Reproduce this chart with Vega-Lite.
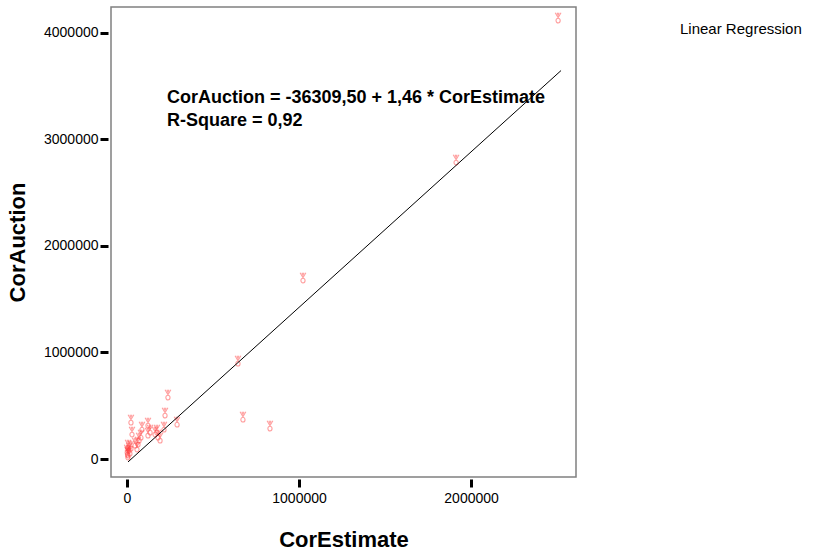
{
  "$schema": "https://vega.github.io/schema/vega-lite/v6.json",
  "autosize": "none",
  "width": 465,
  "height": 470,
  "padding": {"left": 111, "top": 7, "right": 252, "bottom": 79},
  "background": "white",
  "config": {
    "font": "Liberation Sans",
    "view": {"stroke": "#808080", "strokeWidth": 1.5},
    "axis": {"grid": false, "domain": false, "labelColor": "black", "tickColor": "black", "titleColor": "black"}
  },
  "datasets": {
    "points": [
      {"CorEstimate": 2506000, "CorAuction": 4141000},
      {"CorEstimate": 1913000, "CorAuction": 2808000},
      {"CorEstimate": 1023000, "CorAuction": 1700000},
      {"CorEstimate": 645000, "CorAuction": 920000},
      {"CorEstimate": 674000, "CorAuction": 394000},
      {"CorEstimate": 831000, "CorAuction": 310000},
      {"CorEstimate": 238000, "CorAuction": 601000},
      {"CorEstimate": 221000, "CorAuction": 432000},
      {"CorEstimate": 291000, "CorAuction": 347000},
      {"CorEstimate": 23000, "CorAuction": 366000},
      {"CorEstimate": 29000, "CorAuction": 254000},
      {"CorEstimate": 87000, "CorAuction": 300000},
      {"CorEstimate": 122000, "CorAuction": 338000},
      {"CorEstimate": 122000, "CorAuction": 244000},
      {"CorEstimate": 81000, "CorAuction": 225000},
      {"CorEstimate": 64000, "CorAuction": 160000},
      {"CorEstimate": 58000, "CorAuction": 113000},
      {"CorEstimate": 174000, "CorAuction": 272000},
      {"CorEstimate": 180000, "CorAuction": 225000},
      {"CorEstimate": 192000, "CorAuction": 197000},
      {"CorEstimate": 215000, "CorAuction": 300000},
      {"CorEstimate": 163000, "CorAuction": 254000},
      {"CorEstimate": 6000, "CorAuction": 131000},
      {"CorEstimate": 1000, "CorAuction": 85000},
      {"CorEstimate": 3000, "CorAuction": 66000},
      {"CorEstimate": 12000, "CorAuction": 103000},
      {"CorEstimate": 6000, "CorAuction": 56000},
      {"CorEstimate": 47000, "CorAuction": 150000},
      {"CorEstimate": 70000, "CorAuction": 197000},
      {"CorEstimate": 134000, "CorAuction": 272000},
      {"CorEstimate": 5000, "CorAuction": 38000},
      {"CorEstimate": 17000, "CorAuction": 75000},
      {"CorEstimate": 23000, "CorAuction": 122000}
    ],
    "fit": [
      {"CorEstimate": 6000, "CorAuction": -27550, "series": "Linear Regression"},
      {"CorEstimate": 2523000, "CorAuction": 3647270, "series": "Linear Regression"}
    ],
    "note": [
      {"label": "CorAuction = -36309,50 + 1,46 * CorEstimate", "row": 0},
      {"label": "R-Square = 0,92", "row": 1}
    ]
  },
  "layer": [
    {
      "data": {"name": "points"},
      "mark": {
        "type": "point",
        "shape": "M-0.55,-1L0,-0.05L0.55,-1M-0.2,-1L0,-0.55L0.2,-1M0.4,0.5A0.4,0.45,0,1,1,-0.4,0.5A0.4,0.45,0,1,1,0.4,0.5",
        "size": 110,
        "filled": false,
        "stroke": "#ff4040",
        "strokeWidth": 1.1,
        "opacity": 0.5
      },
      "encoding": {
        "x": {
          "field": "CorEstimate", "type": "quantitative",
          "scale": {"domain": [-93000, 2610000], "nice": false, "zero": false},
          "axis": {
            "values": [0, 1000000, 2000000], "format": "d",
            "offset": 2, "tickSize": 8, "tickWidth": 3,
            "labelFontSize": 14, "labelPadding": 4,
            "title": "CorEstimate", "titleFontSize": 22, "titleFontWeight": "bold", "titlePadding": 24
          }
        },
        "y": {
          "field": "CorAuction", "type": "quantitative",
          "scale": {"domain": [-169000, 4244000], "nice": false, "zero": false},
          "axis": {
            "values": [0, 1000000, 2000000, 3000000, 4000000], "format": "d",
            "offset": 3, "tickSize": 8, "tickWidth": 3,
            "labelFontSize": 14, "labelPadding": 2,
            "title": "CorAuction", "titleFontSize": 22, "titleFontWeight": "bold", "titlePadding": 14
          }
        }
      }
    },
    {
      "data": {"name": "fit"},
      "mark": {"type": "line", "strokeWidth": 1},
      "encoding": {
        "x": {"field": "CorEstimate", "type": "quantitative"},
        "y": {"field": "CorAuction", "type": "quantitative"},
        "color": {
          "field": "series", "type": "nominal",
          "scale": {"range": ["black"]},
          "legend": {
            "title": null, "orient": "none", "legendX": 554, "legendY": 14,
            "symbolSize": 0, "symbolStrokeWidth": 0, "symbolOpacity": 0,
            "labelFontSize": 15, "labelColor": "black", "labelOffset": 0
          }
        }
      }
    },
    {
      "data": {"name": "note"},
      "mark": {"type": "text", "align": "left", "baseline": "alphabetic", "fontSize": 18, "fontWeight": "bold", "color": "black"},
      "encoding": {
        "x": {"datum": 232000, "type": "quantitative"},
        "y": {"datum": 3343000, "type": "quantitative"},
        "yOffset": {"field": "row", "type": "quantitative", "scale": {"domain": [0, 1], "range": [0, 23]}, "legend": null},
        "text": {"field": "label"}
      }
    }
  ]
}
